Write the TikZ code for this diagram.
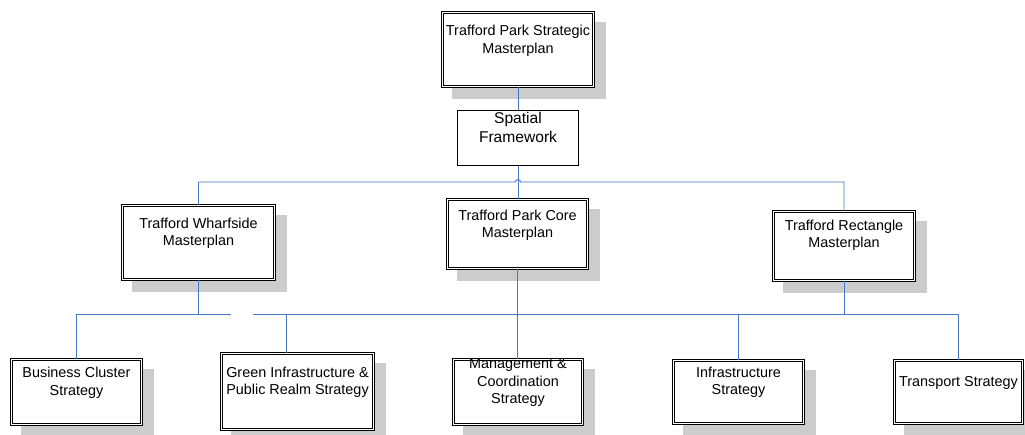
\documentclass[tikz,border=0pt]{standalone}
\usepackage{fontspec}
\setmainfont{Liberation Sans}
\definecolor{linkblue}{RGB}{70,120,200}
\definecolor{shadowgray}{RGB}{204,204,204}
\tikzset{
  conn/.style={draw=linkblue, line width=0.9pt},
  dbox/.style={rectangle, draw=black, double=white, double distance=1.3pt, line width=0.8pt, fill=white, inner sep=0pt},
  sbox/.style={rectangle, draw=black, line width=0.8pt, fill=white, inner sep=0pt},
  lbl/.style={font=\fontsize{14.4}{17.5}\selectfont, align=center, inner sep=0pt},
  biglbl/.style={font=\fontsize{15.6}{19}\selectfont, align=center, inner sep=0pt},
}
% name, x1, y1, x2, y2 in image pixel coordinates (y downward)
\newcommand{\tpbox}[5]{%
  \fill[shadowgray] ({#2+11},{434-#5-11}) rectangle ({#4+11},{434-#3-11});
  \node[dbox, minimum width={(#4-#2-2.9)*1pt}, minimum height={(#5-#3-2.9)*1pt}] (#1) at ({(#2+#4)/2},{434-(#3+#5)/2}) {};
}
\begin{document}
\begin{tikzpicture}[x=1pt,y=1pt]
\useasboundingbox (0,0) rectangle (1025,434);
\clip (0,0) rectangle (1025,434);

% boxes
\tpbox{top}{441}{11}{595}{88}
\node[sbox, minimum width=121.2pt, minimum height=55.2pt] (spatial) at (518,{434-138}) {};
\tpbox{wharf}{121}{204}{276}{281}
\tpbox{core}{446}{198}{589}{270}
\tpbox{rect}{772}{210}{916}{282}
\tpbox{business}{10}{358}{143}{426}
\tpbox{green}{220}{352}{375}{431}
\tpbox{mgmt}{452}{358}{584}{426}
\tpbox{infra}{672}{359}{805}{425}
\tpbox{transport}{893}{359}{1024}{425}

% labels
\node[lbl] (ttop) at (518,{434-41}) {Trafford Park Strategic\\Masterplan};
\node[biglbl] (tspatial) at (518,{434-127.5}) {Spatial\\Framework};
\node[lbl] (twharf) at (198.5,{434-233.5}) {Trafford Wharfside\\Masterplan};
\node[lbl] (tcore) at (517.5,{434-225.5}) {Trafford Park Core\\Masterplan};
\node[lbl] (trect) at (844,{434-235.5}) {Trafford Rectangle\\Masterplan};
\node[lbl] (tbusiness) at (76.5,{434-383}) {Business Cluster\\Strategy};
\node[lbl] (tgreen) at (297.5,{434-382.5}) {Green Infrastructure \&\\Public Realm Strategy};
\node[lbl] (tmgmt) at (518,{434-383}) {Management \&\\Coordination\\Strategy};
\node[lbl] (tinfra) at (738.5,{434-382.5}) {Infrastructure\\Strategy};
\node[lbl] (ttransport) at (958.5,{434-383}) {Transport Strategy};

% bus coordinates
\coordinate (bus1) at (0,252);
\coordinate (bus2) at (0,120);
\coordinate (hopa) at (515.5,252);
\coordinate (gapl) at (231,120);
\coordinate (gapr) at (253,120);
\coordinate (gx) at (286,0);

% connectors
\draw[conn] (top.south) -- (top.south |- spatial.north);
\draw[conn] (spatial.south) -- (spatial.south |- core.north);
\draw[conn] (wharf.north) |- (hopa) arc[start angle=180, end angle=0, radius=2.5] -| (rect.north);
\draw[conn] (wharf.south) -- (wharf.south |- bus2) -| (business.north);
\draw[conn] (wharf.south |- bus2) -- (gapl);
\draw[conn] (gapr) -| (transport.north);
\draw[conn] (gx |- bus2) -- (gx |- green.north);
\draw[conn] (core.south) -- (core.south |- mgmt.north);
\draw[conn] (rect.south) -- (rect.south |- bus2);
\draw[conn] (infra.north |- bus2) -- (infra.north);
\end{tikzpicture}
\end{document}
